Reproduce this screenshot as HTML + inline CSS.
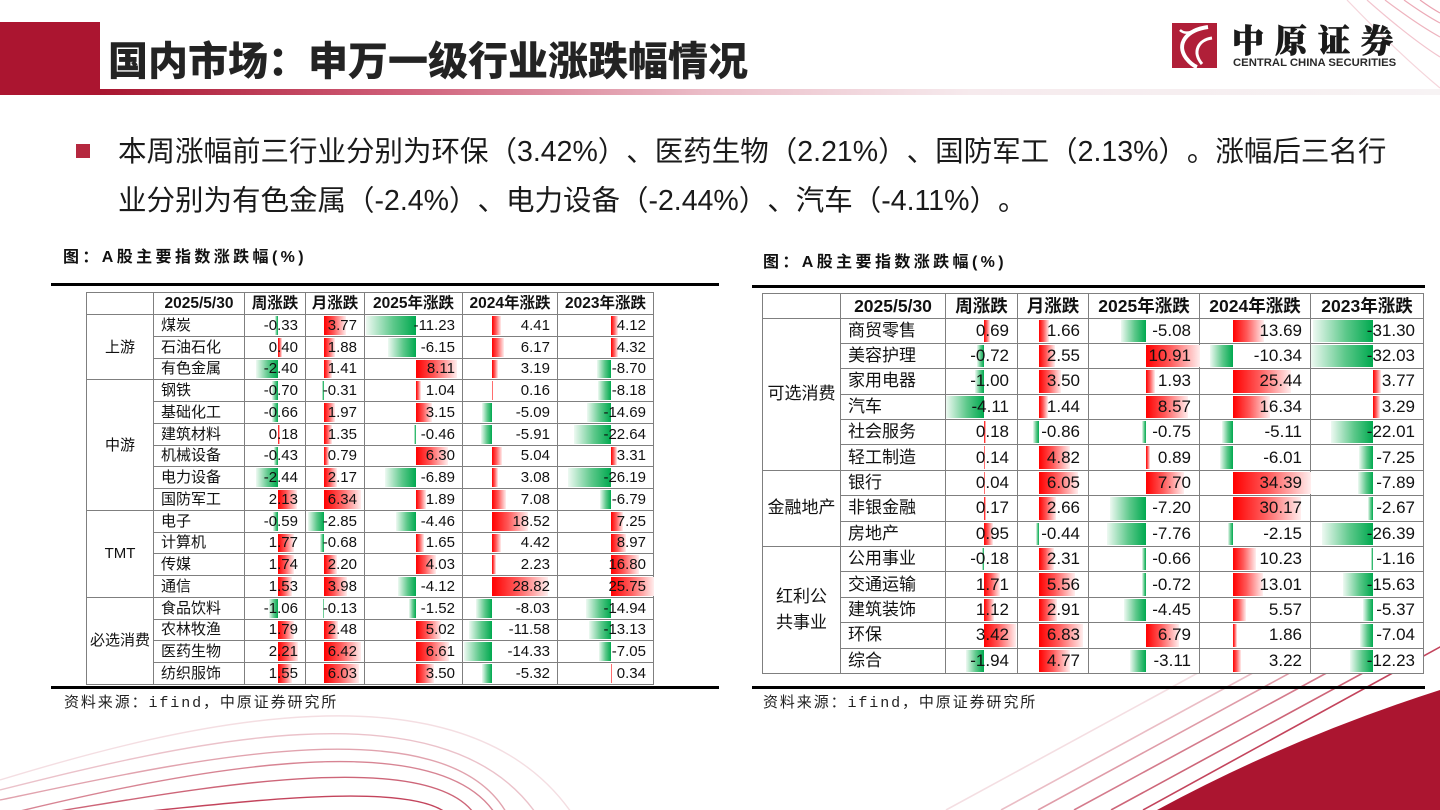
<!DOCTYPE html>
<html><head><meta charset="utf-8">
<style>
*{margin:0;padding:0;box-sizing:border-box}
html,body{width:1440px;height:810px;overflow:hidden;background:#fff}
body{position:relative;font-family:"Liberation Sans","Noto Sans CJK SC",sans-serif;color:#111}
.abs{position:absolute}
.t{position:absolute;border-collapse:collapse;table-layout:fixed;background:#fff;z-index:2}
.t td{border:1px solid #7f7f7f;text-align:right;position:relative;white-space:nowrap;overflow:visible}
.t td.n{text-align:left}
.t td.c{text-align:center;padding:0}
.t tr.h td{text-align:center;font-weight:bold;padding:0}
.t i{position:absolute;top:1px;bottom:1px;display:block}
.t i.u{background:linear-gradient(90deg,#ff0000 0%,#ff5a5a 45%,#ffeeee 100%)}
.t i.d{background:linear-gradient(270deg,#00a94f 0%,#5cc88a 45%,#eef9f2 100%)}
.t td span{position:relative}
.L{left:86px;top:292px;width:567px;font-size:15px;line-height:17px}
.L td{padding:0 7px 0 0}
.L td.n{padding:0 0 0 7px}
.L tr{height:21.76px}
.L tr.h{height:22px;font-size:15.5px}
.R{left:762px;top:292.5px;width:661px;font-size:17px;line-height:20px}
.R td{padding:0 8px 0 0}
.R td.n{padding:0 0 0 7px}
.R tr{height:25.4px}
.R tr.h{height:25px;font-size:17.5px}
.ct{font-size:16px;font-weight:bold;letter-spacing:3.4px;line-height:20px;color:#111}
.src{font-family:"Liberation Mono","Noto Sans CJK SC",monospace;font-size:15px;letter-spacing:1.9px;line-height:20px;color:#222}
.bar{position:absolute;height:3px;background:#000;z-index:3}
.body{text-spacing-trim:space-all}
</style></head>
<body>
<svg class="abs" style="left:0;top:0;z-index:0" width="1440" height="810" viewBox="0 0 1440 810">
  <defs>
    <linearGradient id="tl" x1="0" x2="1" y1="0" y2="0">
      <stop offset="0" stop-color="#a8152f"/>
      <stop offset="0.22" stop-color="#cf5d77"/>
      <stop offset="0.45" stop-color="#ebbcc7"/>
      <stop offset="0.65" stop-color="#f6eaed"/>
      <stop offset="1" stop-color="#f7f3f4"/>
    </linearGradient>
  </defs>
  <rect x="0" y="22" width="100" height="73" fill="#ab1530"/>
  <rect x="100" y="89" width="1340" height="6" fill="url(#tl)"/>
  <!-- top-right arcs -->
  <g fill="none" stroke="#d9566f" stroke-width="1.2">
    <path d="M1347 0 Q1400 55 1440 88" opacity="0.25"/>
    <path d="M1367 0 Q1410 38 1440 57" opacity="0.35"/>
    <path d="M1385 0 Q1418 25 1440 37" opacity="0.45"/>
    <path d="M1404 0 Q1425 15 1440 23" opacity="0.5"/>
    <path d="M1420 0 Q1431 8 1440 13" opacity="0.55"/>
  </g>
  <!-- bottom-left arcs -->
  <g fill="none" stroke="#b8233f" stroke-width="1.4">
    <path d="M0 780 C180 725 460 655 571 812" opacity="0.15"/>
    <path d="M0 790 C180 745 440 680 535 812" opacity="0.28"/>
    <path d="M0 800 C170 765 440 700 506 812" opacity="0.42"/>
    <path d="M16 812 C170 775 430 720 494 812" opacity="0.56"/>
    <path d="M53 812 C180 792 420 745 473 812" opacity="0.7"/>
    <path d="M139 812 C220 805 400 780 445 812" opacity="0.85"/>
  </g>
  <!-- bottom-right lines -->
  <g fill="none" stroke="#b8233f" stroke-width="1.6">
    <path d="M946 810 L1240 650" opacity="0.15"/>
    <path d="M1001 810 L1295 650" opacity="0.3"/>
    <path d="M1038 810 L1332 650" opacity="0.45"/>
    <path d="M1074 810 L1380 644" opacity="0.6"/>
    <path d="M1111 810 L1420 642" opacity="0.7"/>
    <path d="M1143 810 L1460 636" opacity="0.85"/>
  </g>
  <path d="M1157 810 Q1290 738 1440 690 L1440 810 Z" fill="#ab1530"/>
  <!-- logo -->
  <rect x="1172" y="23" width="45" height="45" fill="#b01f38"/>
  <path d="M1208 27 C1186 30 1176 44 1186 58 C1190 63 1194 66 1197 67" fill="none" stroke="#fff" stroke-width="4"/>
  <path d="M1212 38 C1198 40 1192 52 1202 64" fill="none" stroke="#fff" stroke-width="3"/>
  <path d="M1180 30 C1184 34 1190 33 1196 30" fill="none" stroke="#fff" stroke-width="2.5"/>
</svg>

<div class="abs" style="left:108px;top:40px;font-size:40px;line-height:44px;font-weight:900;color:#232323;white-space:nowrap;z-index:2">国内市场：申万一级行业涨跌幅情况</div>

<div class="abs" style="left:1232px;top:22px;font-family:'Noto Serif CJK SC',serif;font-size:32px;line-height:34px;font-weight:900;letter-spacing:11px;color:#1a1a1a;-webkit-text-stroke:0.8px #1a1a1a;white-space:nowrap;z-index:2">中原证券</div>
<div class="abs" style="left:1233px;top:57px;font-size:11.3px;line-height:13px;font-weight:bold;color:#2a2a2a;white-space:nowrap;z-index:2">CENTRAL CHINA SECURITIES</div>

<div class="abs" style="left:76px;top:144px;width:14px;height:14px;background:#b5283f"></div>
<div class="abs body" style="left:118px;top:128px;font-size:28.5px;line-height:49px;color:#1a1a1a;white-space:nowrap;z-index:2">本周涨幅前三行业分别为环保（3.42%）、医药生物（2.21%）、国防军工（2.13%）。涨幅后三名行<br>业分别为有色金属（-2.4%）、电力设备（-2.44%）、汽车（-4.11%）。</div>

<div class="abs ct" style="left:63px;top:248px;white-space:nowrap">图：A股主要指数涨跌幅(%)</div>
<div class="abs ct" style="left:763px;top:253px;white-space:nowrap">图：A股主要指数涨跌幅(%)</div>

<div class="bar" style="left:51px;top:283px;width:668px"></div>
<div class="bar" style="left:51px;top:686px;width:668px"></div>
<div class="bar" style="left:752px;top:284.5px;width:673px"></div>
<div class="bar" style="left:752px;top:686px;width:673px"></div>

<div class="abs src" style="left:64px;top:694px;white-space:nowrap">资料来源：ifind，中原证券研究所</div>
<div class="abs src" style="left:763px;top:694px;white-space:nowrap">资料来源：ifind，中原证券研究所</div>

<table class="t L">
<colgroup><col style="width:67px"><col style="width:91px"><col style="width:61px"><col style="width:59px"><col style="width:98px"><col style="width:95px"><col style="width:96px"></colgroup>
<tr class="h"><td></td><td>2025/5/30</td><td>周涨跌</td><td>月涨跌</td><td>2025年涨跌</td><td>2024年涨跌</td><td>2023年涨跌</td></tr>
<tr><td class="c" rowspan="3">上游</td><td class="n">煤炭</td>
<td><i class="d" style="left:30px;width:3px"></i><span>-0.33</span></td>
<td><i class="u" style="left:18px;width:21.9px"></i><span>3.77</span></td>
<td><i class="d" style="left:0.5px;width:50.5px"></i><span>-11.23</span></td>
<td><i class="u" style="left:29px;width:8.6px"></i><span>4.41</span></td>
<td><i class="u" style="left:53px;width:6.8px"></i><span>4.12</span></td></tr>
<tr><td class="n">石油石化</td>
<td><i class="u" style="left:33px;width:3.6px"></i><span>0.40</span></td>
<td><i class="u" style="left:18px;width:10.9px"></i><span>1.88</span></td>
<td><i class="d" style="left:23.3px;width:27.7px"></i><span>-6.15</span></td>
<td><i class="u" style="left:29px;width:12px"></i><span>6.17</span></td>
<td><i class="u" style="left:53px;width:7.1px"></i><span>4.32</span></td></tr>
<tr><td class="n">有色金属</td>
<td><i class="d" style="left:11.4px;width:21.6px"></i><span>-2.40</span></td>
<td><i class="u" style="left:18px;width:8.2px"></i><span>1.41</span></td>
<td><i class="u" style="left:51px;width:40.6px"></i><span>8.11</span></td>
<td><i class="u" style="left:29px;width:6.2px"></i><span>3.19</span></td>
<td><i class="d" style="left:38.6px;width:14.4px"></i><span>-8.70</span></td></tr>
<tr><td class="c" rowspan="6">中游</td><td class="n">钢铁</td>
<td><i class="d" style="left:26.7px;width:6.3px"></i><span>-0.70</span></td>
<td><i class="d" style="left:16.2px;width:1.8px"></i><span>-0.31</span></td>
<td><i class="u" style="left:51px;width:5.2px"></i><span>1.04</span></td>
<td><i class="u" style="left:29px;width:1px"></i><span>0.16</span></td>
<td><i class="d" style="left:39.5px;width:13.5px"></i><span>-8.18</span></td></tr>
<tr><td class="n">基础化工</td>
<td><i class="d" style="left:27.1px;width:5.9px"></i><span>-0.66</span></td>
<td><i class="u" style="left:18px;width:11.4px"></i><span>1.97</span></td>
<td><i class="u" style="left:51px;width:15.8px"></i><span>3.15</span></td>
<td><i class="d" style="left:19.1px;width:9.9px"></i><span>-5.09</span></td>
<td><i class="d" style="left:28.8px;width:24.2px"></i><span>-14.69</span></td></tr>
<tr><td class="n">建筑材料</td>
<td><i class="u" style="left:33px;width:1.6px"></i><span>0.18</span></td>
<td><i class="u" style="left:18px;width:7.8px"></i><span>1.35</span></td>
<td><i class="d" style="left:48.9px;width:2.1px"></i><span>-0.46</span></td>
<td><i class="d" style="left:17.5px;width:11.5px"></i><span>-5.91</span></td>
<td><i class="d" style="left:15.6px;width:37.4px"></i><span>-22.64</span></td></tr>
<tr><td class="n">机械设备</td>
<td><i class="d" style="left:29.1px;width:3.9px"></i><span>-0.43</span></td>
<td><i class="u" style="left:18px;width:4.6px"></i><span>0.79</span></td>
<td><i class="u" style="left:51px;width:31.5px"></i><span>6.30</span></td>
<td><i class="u" style="left:29px;width:9.8px"></i><span>5.04</span></td>
<td><i class="u" style="left:53px;width:5.5px"></i><span>3.31</span></td></tr>
<tr><td class="n">电力设备</td>
<td><i class="d" style="left:11px;width:22px"></i><span>-2.44</span></td>
<td><i class="u" style="left:18px;width:12.6px"></i><span>2.17</span></td>
<td><i class="d" style="left:20px;width:31px"></i><span>-6.89</span></td>
<td><i class="u" style="left:29px;width:6px"></i><span>3.08</span></td>
<td><i class="d" style="left:9.8px;width:43.2px"></i><span>-26.19</span></td></tr>
<tr><td class="n">国防军工</td>
<td><i class="u" style="left:33px;width:19.2px"></i><span>2.13</span></td>
<td><i class="u" style="left:18px;width:36.8px"></i><span>6.34</span></td>
<td><i class="u" style="left:51px;width:9.5px"></i><span>1.89</span></td>
<td><i class="u" style="left:29px;width:13.8px"></i><span>7.08</span></td>
<td><i class="d" style="left:41.8px;width:11.2px"></i><span>-6.79</span></td></tr>
<tr><td class="c" rowspan="4">TMT</td><td class="n">电子</td>
<td><i class="d" style="left:27.7px;width:5.3px"></i><span>-0.59</span></td>
<td><i class="d" style="left:1.5px;width:16.5px"></i><span>-2.85</span></td>
<td><i class="d" style="left:30.9px;width:20.1px"></i><span>-4.46</span></td>
<td><i class="u" style="left:29px;width:36.1px"></i><span>18.52</span></td>
<td><i class="u" style="left:53px;width:12px"></i><span>7.25</span></td></tr>
<tr><td class="n">计算机</td>
<td><i class="u" style="left:33px;width:15.9px"></i><span>1.77</span></td>
<td><i class="d" style="left:14.1px;width:3.9px"></i><span>-0.68</span></td>
<td><i class="u" style="left:51px;width:8.3px"></i><span>1.65</span></td>
<td><i class="u" style="left:29px;width:8.6px"></i><span>4.42</span></td>
<td><i class="u" style="left:53px;width:14.8px"></i><span>8.97</span></td></tr>
<tr><td class="n">传媒</td>
<td><i class="u" style="left:33px;width:15.7px"></i><span>1.74</span></td>
<td><i class="u" style="left:18px;width:12.8px"></i><span>2.20</span></td>
<td><i class="u" style="left:51px;width:20.2px"></i><span>4.03</span></td>
<td><i class="u" style="left:29px;width:4.3px"></i><span>2.23</span></td>
<td><i class="u" style="left:53px;width:27.7px"></i><span>16.80</span></td></tr>
<tr><td class="n">通信</td>
<td><i class="u" style="left:33px;width:13.8px"></i><span>1.53</span></td>
<td><i class="u" style="left:18px;width:23.1px"></i><span>3.98</span></td>
<td><i class="d" style="left:32.5px;width:18.5px"></i><span>-4.12</span></td>
<td><i class="u" style="left:29px;width:56.2px"></i><span>28.82</span></td>
<td><i class="u" style="left:53px;width:42.5px"></i><span>25.75</span></td></tr>
<tr><td class="c" rowspan="4">必选消费</td><td class="n">食品饮料</td>
<td><i class="d" style="left:23.5px;width:9.5px"></i><span>-1.06</span></td>
<td><i class="d" style="left:17.2px;width:0.8px"></i><span>-0.13</span></td>
<td><i class="d" style="left:44.2px;width:6.8px"></i><span>-1.52</span></td>
<td><i class="d" style="left:13.3px;width:15.7px"></i><span>-8.03</span></td>
<td><i class="d" style="left:28.3px;width:24.7px"></i><span>-14.94</span></td></tr>
<tr><td class="n">农林牧渔</td>
<td><i class="u" style="left:33px;width:16.1px"></i><span>1.79</span></td>
<td><i class="u" style="left:18px;width:14.4px"></i><span>2.48</span></td>
<td><i class="u" style="left:51px;width:25.1px"></i><span>5.02</span></td>
<td><i class="d" style="left:6.4px;width:22.6px"></i><span>-11.58</span></td>
<td><i class="d" style="left:31.3px;width:21.7px"></i><span>-13.13</span></td></tr>
<tr><td class="n">医药生物</td>
<td><i class="u" style="left:33px;width:19.9px"></i><span>2.21</span></td>
<td><i class="u" style="left:18px;width:37.2px"></i><span>6.42</span></td>
<td><i class="u" style="left:51px;width:33.1px"></i><span>6.61</span></td>
<td><i class="d" style="left:1.1px;width:27.9px"></i><span>-14.33</span></td>
<td><i class="d" style="left:41.4px;width:11.6px"></i><span>-7.05</span></td></tr>
<tr><td class="n">纺织服饰</td>
<td><i class="u" style="left:33px;width:14px"></i><span>1.55</span></td>
<td><i class="u" style="left:18px;width:35px"></i><span>6.03</span></td>
<td><i class="u" style="left:51px;width:17.5px"></i><span>3.50</span></td>
<td><i class="d" style="left:18.6px;width:10.4px"></i><span>-5.32</span></td>
<td><i class="u" style="left:53px;width:1px"></i><span>0.34</span></td></tr>
</table>

<table class="t R">
<colgroup><col style="width:78px"><col style="width:105px"><col style="width:72px"><col style="width:71px"><col style="width:111px"><col style="width:111px"><col style="width:113px"></colgroup>
<tr class="h"><td></td><td>2025/5/30</td><td>周涨跌</td><td>月涨跌</td><td>2025年涨跌</td><td>2024年涨跌</td><td>2023年涨跌</td></tr>
<tr><td class="c" rowspan="6">可选消费</td><td class="n">商贸零售</td>
<td><i class="u" style="left:38px;width:6.3px"></i><span>0.69</span></td>
<td><i class="u" style="left:20.6px;width:10.8px"></i><span>1.66</span></td>
<td><i class="d" style="left:31.5px;width:25.1px"></i><span>-5.08</span></td>
<td><i class="u" style="left:33.3px;width:30.9px"></i><span>13.69</span></td>
<td><i class="d" style="left:1.6px;width:60.7px"></i><span>-31.30</span></td></tr>
<tr><td class="n">美容护理</td>
<td><i class="d" style="left:31.4px;width:6.6px"></i><span>-0.72</span></td>
<td><i class="u" style="left:20.6px;width:16.6px"></i><span>2.55</span></td>
<td><i class="u" style="left:56.6px;width:54px"></i><span>10.91</span></td>
<td><i class="d" style="left:9.9px;width:23.4px"></i><span>-10.34</span></td>
<td><i class="d" style="left:0.2px;width:62.1px"></i><span>-32.03</span></td></tr>
<tr><td class="n">家用电器</td>
<td><i class="d" style="left:28.8px;width:9.2px"></i><span>-1.00</span></td>
<td><i class="u" style="left:20.6px;width:22.8px"></i><span>3.50</span></td>
<td><i class="u" style="left:56.6px;width:9.6px"></i><span>1.93</span></td>
<td><i class="u" style="left:33.3px;width:57.5px"></i><span>25.44</span></td>
<td><i class="u" style="left:62.3px;width:7.3px"></i><span>3.77</span></td></tr>
<tr><td class="n">汽车</td>
<td><i class="d" style="left:0.2px;width:37.8px"></i><span>-4.11</span></td>
<td><i class="u" style="left:20.6px;width:9.4px"></i><span>1.44</span></td>
<td><i class="u" style="left:56.6px;width:42.4px"></i><span>8.57</span></td>
<td><i class="u" style="left:33.3px;width:36.9px"></i><span>16.34</span></td>
<td><i class="u" style="left:62.3px;width:6.4px"></i><span>3.29</span></td></tr>
<tr><td class="n">社会服务</td>
<td><i class="u" style="left:38px;width:1.7px"></i><span>0.18</span></td>
<td><i class="d" style="left:15px;width:5.6px"></i><span>-0.86</span></td>
<td><i class="d" style="left:52.9px;width:3.7px"></i><span>-0.75</span></td>
<td><i class="d" style="left:21.8px;width:11.5px"></i><span>-5.11</span></td>
<td><i class="d" style="left:19.6px;width:42.7px"></i><span>-22.01</span></td></tr>
<tr><td class="n">轻工制造</td>
<td><i class="u" style="left:38px;width:1.3px"></i><span>0.14</span></td>
<td><i class="u" style="left:20.6px;width:31.3px"></i><span>4.82</span></td>
<td><i class="u" style="left:56.6px;width:4.4px"></i><span>0.89</span></td>
<td><i class="d" style="left:19.7px;width:13.6px"></i><span>-6.01</span></td>
<td><i class="d" style="left:48.2px;width:14.1px"></i><span>-7.25</span></td></tr>
<tr><td class="c" rowspan="3">金融地产</td><td class="n">银行</td>
<td><i class="u" style="left:38px;width:1px"></i><span>0.04</span></td>
<td><i class="u" style="left:20.6px;width:39.3px"></i><span>6.05</span></td>
<td><i class="u" style="left:56.6px;width:38.1px"></i><span>7.70</span></td>
<td><i class="u" style="left:33.3px;width:77.7px"></i><span>34.39</span></td>
<td><i class="d" style="left:47px;width:15.3px"></i><span>-7.89</span></td></tr>
<tr><td class="n">非银金融</td>
<td><i class="u" style="left:38px;width:1.6px"></i><span>0.17</span></td>
<td><i class="u" style="left:20.6px;width:17.3px"></i><span>2.66</span></td>
<td><i class="d" style="left:21px;width:35.6px"></i><span>-7.20</span></td>
<td><i class="u" style="left:33.3px;width:68.2px"></i><span>30.17</span></td>
<td><i class="d" style="left:57.1px;width:5.2px"></i><span>-2.67</span></td></tr>
<tr><td class="n">房地产</td>
<td><i class="u" style="left:38px;width:8.7px"></i><span>0.95</span></td>
<td><i class="d" style="left:17.7px;width:2.9px"></i><span>-0.44</span></td>
<td><i class="d" style="left:18.2px;width:38.4px"></i><span>-7.76</span></td>
<td><i class="d" style="left:28.4px;width:4.9px"></i><span>-2.15</span></td>
<td><i class="d" style="left:11.1px;width:51.2px"></i><span>-26.39</span></td></tr>
<tr><td class="c" rowspan="5" style="line-height:26px">红利公<br>共事业</td><td class="n">公用事业</td>
<td><i class="d" style="left:36.3px;width:1.7px"></i><span>-0.18</span></td>
<td><i class="u" style="left:20.6px;width:15px"></i><span>2.31</span></td>
<td><i class="d" style="left:53.3px;width:3.3px"></i><span>-0.66</span></td>
<td><i class="u" style="left:33.3px;width:23.1px"></i><span>10.23</span></td>
<td><i class="d" style="left:60px;width:2.3px"></i><span>-1.16</span></td></tr>
<tr><td class="n">交通运输</td>
<td><i class="u" style="left:38px;width:15.7px"></i><span>1.71</span></td>
<td><i class="u" style="left:20.6px;width:36.1px"></i><span>5.56</span></td>
<td><i class="d" style="left:53px;width:3.6px"></i><span>-0.72</span></td>
<td><i class="u" style="left:33.3px;width:29.4px"></i><span>13.01</span></td>
<td><i class="d" style="left:32px;width:30.3px"></i><span>-15.63</span></td></tr>
<tr><td class="n">建筑装饰</td>
<td><i class="u" style="left:38px;width:10.3px"></i><span>1.12</span></td>
<td><i class="u" style="left:20.6px;width:18.9px"></i><span>2.91</span></td>
<td><i class="d" style="left:34.6px;width:22px"></i><span>-4.45</span></td>
<td><i class="u" style="left:33.3px;width:12.6px"></i><span>5.57</span></td>
<td><i class="d" style="left:51.9px;width:10.4px"></i><span>-5.37</span></td></tr>
<tr><td class="n">环保</td>
<td><i class="u" style="left:38px;width:31.5px"></i><span>3.42</span></td>
<td><i class="u" style="left:20.6px;width:44.4px"></i><span>6.83</span></td>
<td><i class="u" style="left:56.6px;width:33.6px"></i><span>6.79</span></td>
<td><i class="u" style="left:33.3px;width:4.2px"></i><span>1.86</span></td>
<td><i class="d" style="left:48.6px;width:13.7px"></i><span>-7.04</span></td></tr>
<tr><td class="n">综合</td>
<td><i class="d" style="left:20.2px;width:17.8px"></i><span>-1.94</span></td>
<td><i class="u" style="left:20.6px;width:31px"></i><span>4.77</span></td>
<td><i class="d" style="left:41.2px;width:15.4px"></i><span>-3.11</span></td>
<td><i class="u" style="left:33.3px;width:7.3px"></i><span>3.22</span></td>
<td><i class="d" style="left:38.6px;width:23.7px"></i><span>-12.23</span></td></tr>
</table>
</body></html>
